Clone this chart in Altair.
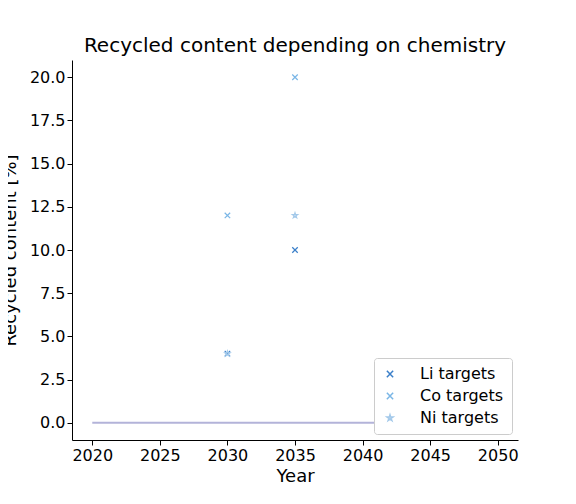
import altair as alt
import pandas as pd

series = ["Li targets", "Li targets", "Co targets", "Co targets", "Ni targets", "Ni targets"]
years = [2030, 2035, 2030, 2035, 2030, 2035]
values = [4, 10, 12, 20, 4, 12]
line_years = [2020, 2050]
line_vals = [0, 0]

df = pd.DataFrame({"series": series, "year": years, "value": values})
ldf = pd.DataFrame({"year": line_years, "value": line_vals})

xs = alt.Scale(domain=[2018.5, 2051.5], nice=False, zero=False)
ys = alt.Scale(domain=[-1, 21], nice=False, zero=False)
xax = alt.Axis(values=list(range(2020, 2051, 5)), format="d", grid=False, title="Year",
               labelFontSize=16, titleFontSize=18, titleFontWeight="normal", domainColor="black",
               tickColor="black", labelColor="black", labelFlush=False, titlePadding=4)
yax = alt.Axis(values=[x * 2.5 for x in range(9)], format=".1f", grid=False, title="Recycled content [%]",
               labelFontSize=16, titleFontSize=18, titleFontWeight="normal", domainColor="black",
               tickColor="black", labelColor="black", titlePadding=10)

line = alt.Chart(ldf).mark_line(color="#b3b3d9", strokeWidth=2).encode(
    x=alt.X("year:Q", scale=xs, axis=xax), y=alt.Y("value:Q", scale=ys, axis=yax))

xpath = "M-1,-1L1,1M-1,1L1,-1"
star = "M0,-1L0.22,-0.31L0.95,-0.31L0.36,0.12L0.59,0.81L0,0.38L-0.59,0.81L-0.36,0.12L-0.95,-0.31L-0.22,-0.31Z"
order = ["Li targets", "Co targets", "Ni targets"]
pts = alt.Chart(df).mark_point(size=30, strokeWidth=1.2, opacity=1).encode(
    x="year:Q", y="value:Q",
    color=alt.Color("series:N", sort=order, scale=alt.Scale(domain=order, range=["#3a7fc9", "#7ab6e6", "#a3c9ea"]),
                    legend=alt.Legend(title=None, orient="bottom-right", labelFontSize=16, symbolSize=40,
                                      strokeColor="#cccccc", padding=8, cornerRadius=3, fillColor="white",
                                      offset=6, labelOffset=22, rowPadding=6)),
    shape=alt.Shape("series:N", sort=order, scale=alt.Scale(domain=order, range=[xpath, xpath, star])),
)

chart = (line + pts).properties(
    width=446, height=380,
    title=alt.Title("Recycled content depending on chemistry", fontSize=20, fontWeight="normal", anchor="middle"),
    autosize=alt.AutoSizeParams(type="none"),
    padding={"left": 64, "top": 52, "right": 50, "bottom": 56},
).configure(font="DejaVu Sans").configure_view(stroke=None)

chart.save("out.html", embed_options={"renderer": "svg", "actions": False})
